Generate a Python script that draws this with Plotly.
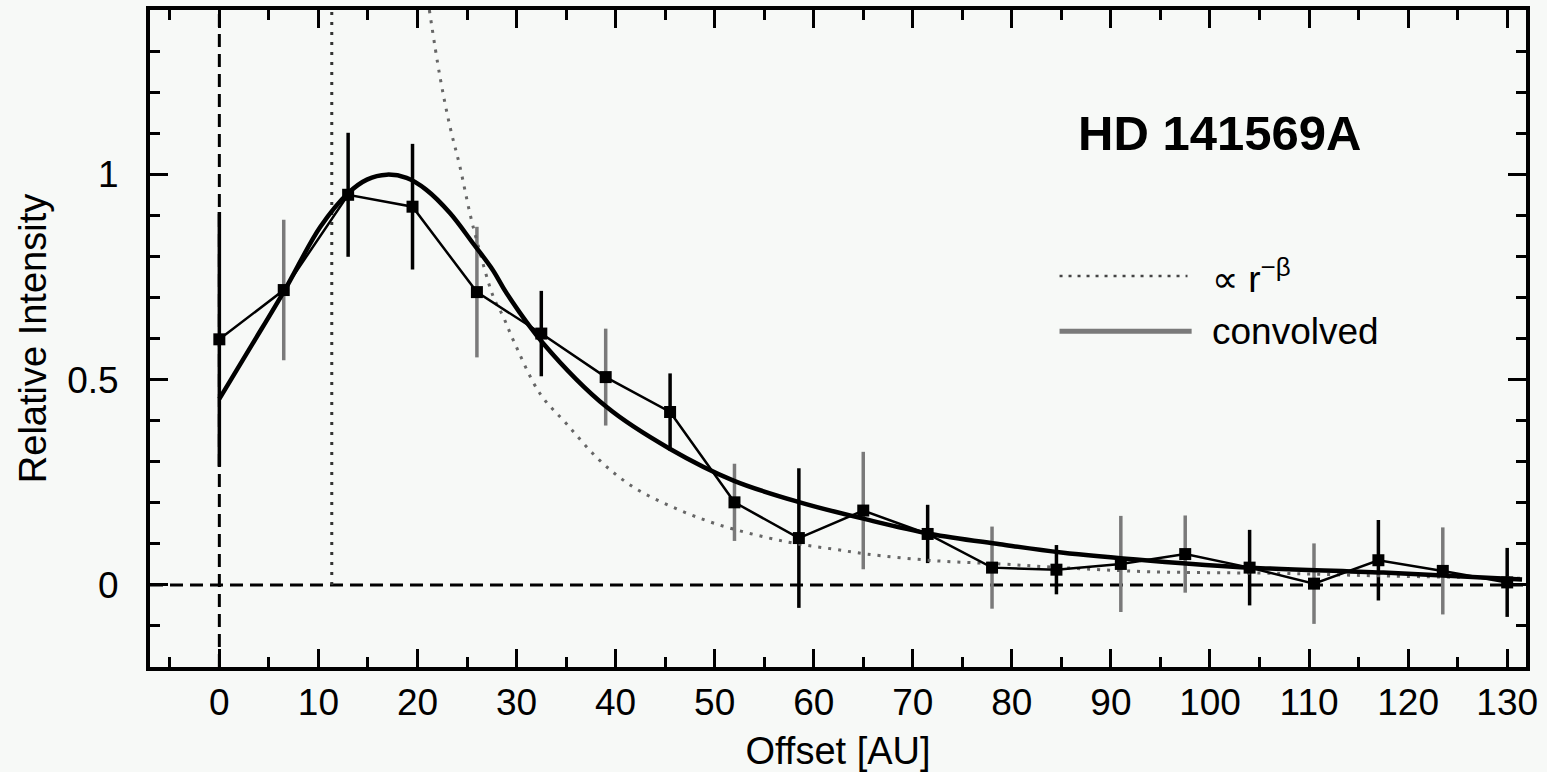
import plotly.graph_objects as go

# ---- data ----
offset_au = [0, 6.5, 13, 19.5, 26, 32.5, 39, 45.5, 52, 58.5, 65, 71.5, 78,
             84.5, 91, 97.5, 104, 110.5, 117, 123.5, 130]
intensity = [0.598, 0.718, 0.950, 0.921, 0.713, 0.612, 0.506, 0.421, 0.201,
             0.114, 0.181, 0.124, 0.042, 0.037, 0.051, 0.075, 0.042, 0.003,
             0.060, 0.034, 0.006]
intensity_err = [0.31, 0.171, 0.151, 0.153, 0.159, 0.104, 0.118, 0.094, 0.094,
                 0.17, 0.143, 0.071, 0.10, 0.06, 0.117, 0.094, 0.092, 0.098,
                 0.098, 0.106, 0.084]
# which error-bar colour group each point belongs to (k = black, g = grey)
err_group = ['k', 'g', 'k', 'k', 'g', 'k', 'g', 'k', 'g', 'k', 'g', 'k', 'g',
             'k', 'g', 'g', 'k', 'g', 'k', 'g', 'k']

conv_x = [0, 3.3, 6.6, 10.2, 13.0, 14.9, 16.9, 18.9, 20.9, 23.3, 25.6, 27.6,
          29.0, 32.7, 39.1, 45.5, 51.9, 58.6, 65.2, 71.8, 78.8, 85, 94, 104.1,
          117.5, 131.5]
conv_y = [0.453, 0.585, 0.718, 0.872, 0.954, 0.987, 0.999, 0.991, 0.962, 0.905,
          0.832, 0.767, 0.71, 0.588, 0.433, 0.331, 0.254, 0.201, 0.160, 0.124,
          0.099, 0.079, 0.059, 0.042, 0.030, 0.013]

plaw_x = [21.2, 22.26, 23.27, 24.28, 25.29, 25.97, 27.65, 28.66, 29.67, 32.36,
          35.06, 38.4, 41.8, 45.8, 50.2, 55.3, 58.6, 62.0, 65.4, 72.1, 78.8,
          85, 94, 107, 117, 131.5]
plaw_y = [1.40, 1.239, 1.117, 1.019, 0.905, 0.840, 0.702, 0.653, 0.596, 0.466,
          0.392, 0.303, 0.238, 0.189, 0.148, 0.115, 0.099, 0.087, 0.075, 0.059,
          0.051, 0.042, 0.032, 0.028, 0.022, 0.016]
inner_edge_au = 11.35

x_range = [-7, 131.9]
y_range = [-0.2, 1.4]
x_ticks = [0, 10, 20, 30, 40, 50, 60, 70, 80, 90, 100, 110, 120, 130]
y_ticks = [0, 0.5, 1]
y_ticklabels = ["0", "0.5", "1"]

title_text = "HD 141569A"
legend_plaw = "∝ r<sup>−β</sup>"
legend_conv = "convolved"

FONT = "Liberation Sans, Arial, Helvetica, sans-serif"
BG = "#f7f9f7"
GREY = "#7a7a7a"

fig = go.Figure()

# error bars, two colour groups
for grp, col in (("k", "black"), ("g", GREY)):
    xs = [x for x, g in zip(offset_au, err_group) if g == grp]
    ys = [y for y, g in zip(intensity, err_group) if g == grp]
    es = [e for e, g in zip(intensity_err, err_group) if g == grp]
    fig.add_trace(go.Scatter(
        x=xs, y=ys, mode="markers",
        marker=dict(size=2, color="rgba(0,0,0,0)"),
        error_y=dict(type="data", array=es, visible=True, color=col,
                     thickness=3.5, width=0),
        showlegend=False, hoverinfo="skip"))

# power law (dotted)
fig.add_trace(go.Scatter(
    x=[inner_edge_au, inner_edge_au], y=[0, y_range[1]], mode="lines",
    line=dict(color="#333333", width=3, dash="3px,7px"), showlegend=False))
fig.add_trace(go.Scatter(
    x=plaw_x, y=plaw_y, mode="lines", line_shape="spline",
    line=dict(color="#666666", width=3, dash="3px,7px"), showlegend=False))

# convolved model (thick)
fig.add_trace(go.Scatter(
    x=conv_x, y=conv_y, mode="lines", line_shape="spline",
    line=dict(color="black", width=4.5), showlegend=False))

# measured profile
fig.add_trace(go.Scatter(
    x=offset_au, y=intensity, mode="lines+markers",
    line=dict(color="black", width=2.5),
    marker=dict(symbol="square", size=12, color="black"),
    showlegend=False))

# dashed reference lines at x=0 and y=0
fig.add_shape(type="line", xref="x", yref="paper", x0=0, x1=0, y0=0, y1=1,
              line=dict(color="black", width=3, dash="13px,7px"), layer="below")
fig.add_shape(type="line", xref="paper", yref="y", x0=0, x1=1, y0=0, y1=0,
              line=dict(color="black", width=3, dash="13px,7px"), layer="below")

# manual legend
fig.add_shape(type="line", xref="paper", yref="paper", x0=0.661, x1=0.754,
              y0=0.595, y1=0.595, line=dict(color="#444444", width=2.5, dash="3px,6px"))
fig.add_shape(type="line", xref="paper", yref="paper", x0=0.661, x1=0.757,
              y0=0.511, y1=0.511, line=dict(color=GREY, width=5))
fig.add_annotation(xref="paper", yref="paper", x=0.770, y=0.595, xanchor="left",
                   yanchor="middle", text=legend_plaw, showarrow=False,
                   font=dict(family=FONT, size=37, color="black"))
fig.add_annotation(xref="paper", yref="paper", x=0.770, y=0.511, xanchor="left",
                   yanchor="middle", text=legend_conv, showarrow=False,
                   font=dict(family=FONT, size=37, color="black"))
fig.add_annotation(xref="paper", yref="paper", x=0.777, y=0.813, xanchor="center",
                   yanchor="middle", text="<b>" + title_text + "</b>", showarrow=False,
                   font=dict(family=FONT, size=49, color="black"))

axis_common = dict(
    showline=True, linecolor="black", linewidth=4, mirror="ticks",
    ticks="inside", tickcolor="black", tickwidth=3, ticklen=18,
    showgrid=False, zeroline=False,
    tickfont=dict(family=FONT, size=37, color="black"),
)

fig.update_xaxes(range=x_range, tickvals=x_ticks, ticklabelstandoff=0,
                 minor=dict(dtick=5, ticks="inside", ticklen=10, tickwidth=3,
                            tickcolor="black", showgrid=False),
                 title=dict(text="Offset [AU]", standoff=16,
                            font=dict(family=FONT, size=38, color="black")),
                 **axis_common)
fig.update_yaxes(range=y_range, tickvals=y_ticks, ticktext=y_ticklabels,
                 ticklabelstandoff=20,
                 minor=dict(dtick=0.1, tick0=0, ticks="inside", ticklen=10,
                            tickwidth=3, tickcolor="black", showgrid=False),
                 title=dict(text="Relative Intensity", standoff=10,
                            font=dict(family=FONT, size=38, color="black")),
                 **axis_common)

fig.update_layout(
    width=1547, height=772,
    margin=dict(l=150, r=21, t=10, b=105, autoexpand=False),
    paper_bgcolor=BG, plot_bgcolor=BG,
    showlegend=False,
)

fig.write_html("out.html")
